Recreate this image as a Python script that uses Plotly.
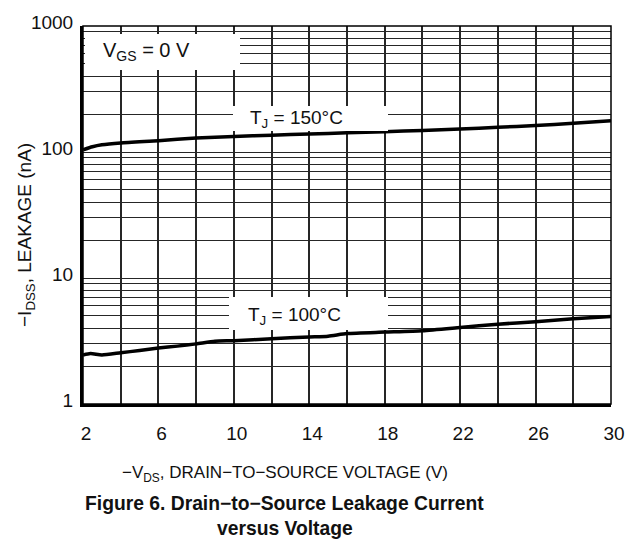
import plotly.graph_objects as go

# ---- data ----
vds_150 = [2, 2.5, 3, 4, 6, 8, 10, 12, 14, 16, 18, 20, 22, 24, 26, 28, 30]
idss_150 = [104, 110, 114, 118, 123, 129, 133, 136, 139, 142, 145, 148, 152, 157, 162, 169, 177]

vds_100 = [2, 2.4, 3, 4, 5, 6, 7, 8, 9, 10, 12, 14, 15, 16, 18, 20, 22, 24, 26, 28, 30]
idss_100 = [2.45, 2.52, 2.45, 2.55, 2.66, 2.78, 2.88, 3.0, 3.15, 3.18, 3.3, 3.4, 3.45, 3.62, 3.72, 3.82, 4.05, 4.3, 4.5, 4.75, 4.95]

x_grid = list(range(2, 31, 2))
x_tick_labels = [str(v) if (v - 2) % 4 == 0 else "" for v in x_grid]
y_grid = [m * d for d in (1, 10, 100) for m in range(1, 10)] + [1000]
y_tick_labels = [str(v) if v in (1, 10, 100, 1000) else "" for v in y_grid]

FONT = "Liberation Sans, Arial, sans-serif"
TXT = "#111"

fig = go.Figure()
for xs, ys in ((vds_150, idss_150), (vds_100, idss_100)):
    fig.add_trace(go.Scatter(x=xs, y=ys, mode="lines",
                             line=dict(color="black", width=3.5, shape="spline", smoothing=0.6),
                             showlegend=False, hoverinfo="skip"))

W, H = 637, 544
L, R, T, B = 83, 620, 26, 404          # plot area in window pixels
def px(x):
    return (x - L) / (R - L)
def py(y):
    return (B - y) / (B - T)

# white label boxes (drawn as empty annotations)
boxes = [(86, 241, 34, 70), (237, 392, 106, 131), (233, 392, 297, 330)]
for x0, x1, y0, y1 in boxes:
    fig.add_annotation(text=" ", xref="paper", yref="paper",
                       x=px((x0 + x1) / 2), y=py((y0 + y1) / 2),
                       xanchor="center", yanchor="middle", showarrow=False,
                       width=x1 - x0, height=y1 - y0, bgcolor="white",
                       borderpad=0, borderwidth=0)

# thin top/right border
fig.add_shape(type="rect", xref="paper", yref="paper", x0=0, x1=1, y0=0, y1=1,
              line=dict(color="black", width=1.5), layer="above")

labels = [
    ("V<sub>GS</sub> = 0 V", 148, 51, 20),
    ("T<sub>J</sub> = 150°C", 300, 119, 19),
    ("T<sub>J</sub> = 100°C", 298, 316, 19),
]
for txt, x, y, s in labels:
    fig.add_annotation(text=txt, xref="paper", yref="paper", x=px(x), y=py(y),
                       showarrow=False, font=dict(family=FONT, size=s, color=TXT),
                       xanchor="center", yanchor="middle")

# axis titles and caption
fig.add_annotation(text="−I<sub>DSS</sub>, LEAKAGE (nA)", textangle=-90,
                   xref="paper", yref="paper", x=px(25), y=py(235),
                   showarrow=False, font=dict(family=FONT, size=19, color=TXT),
                   xanchor="center", yanchor="middle")
fig.add_annotation(text="−V<sub>DS</sub>, DRAIN−TO−SOURCE VOLTAGE (V)",
                   xref="paper", yref="paper", x=px(288), y=py(474),
                   showarrow=False, font=dict(family=FONT, size=17, color=TXT),
                   xanchor="center", yanchor="middle")
fig.add_annotation(text="<b>Figure 6. Drain−to−Source Leakage Current</b>",
                   xref="paper", yref="paper", x=px(288), y=py(503),
                   showarrow=False, font=dict(family=FONT, size=19.3, color=TXT),
                   xanchor="center", yanchor="middle")
fig.add_annotation(text="<b>versus Voltage</b>",
                   xref="paper", yref="paper", x=px(288), y=py(528),
                   showarrow=False, font=dict(family=FONT, size=19.3, color=TXT),
                   xanchor="center", yanchor="middle")

grid_c = "#262626"
fig.update_xaxes(range=[2, 30], tickmode="array", tickvals=x_grid, ticktext=x_tick_labels,
                 ticks="", showline=True, linecolor="black", linewidth=3,
                 showgrid=True, gridcolor=grid_c, gridwidth=1.6,
                 tickfont=dict(family=FONT, size=19, color=TXT),
                 zeroline=False, ticklabelstandoff=10, ticklabelshift=3,
                 ticklabeloverflow="allow")
fig.update_yaxes(type="log", range=[0, 3], tickmode="array", tickvals=y_grid,
                 ticktext=y_tick_labels, ticks="",
                 showline=True, linecolor="black", linewidth=3,
                 showgrid=True, gridcolor=grid_c, gridwidth=1.3,
                 tickfont=dict(family=FONT, size=19, color=TXT),
                 zeroline=False, ticklabelstandoff=3, ticklabelshift=-4,
                 ticklabeloverflow="allow")

fig.update_layout(width=W, height=H, autosize=False,
                  margin=dict(l=L, r=W - R, t=T, b=H - B),
                  plot_bgcolor="white", paper_bgcolor="white",
                  font=dict(family=FONT))

fig.write_html("out.html", config={"displayModeBar": False},
               post_script="document.body.style.margin='0';"
                           "document.documentElement.style.overflow='hidden';"
                           "document.body.style.overflow='hidden';")
